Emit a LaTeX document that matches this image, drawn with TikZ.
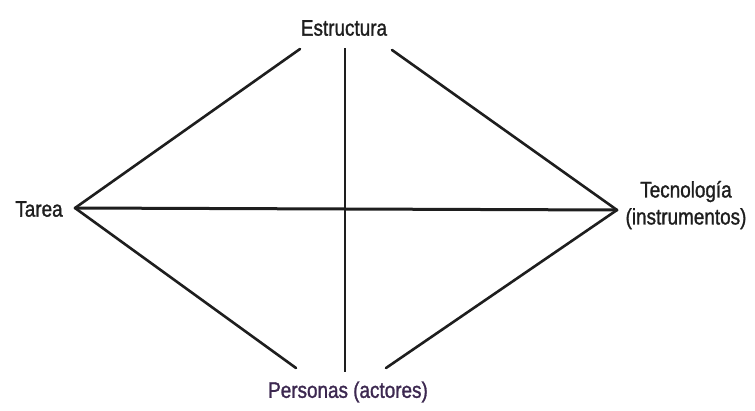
\documentclass[tikz,border=0pt]{standalone}
\usepackage{fontspec}
\setmainfont[FakeStretch=0.84,FakeBold=1.2]{Liberation Sans}
\definecolor{ink}{RGB}{30,30,30}
\definecolor{inkp}{RGB}{60,40,80}
\begin{document}
\begin{tikzpicture}[x=1pt,y=-1pt,
  lbl/.style={font=\fontsize{22.5}{27}\selectfont, text=ink, inner sep=0pt},
  edge/.style={draw=ink, line width=2.6pt, line cap=round},
  axis/.style={draw=ink, line width=1.5pt}]
\useasboundingbox[fill=white] (0,0) rectangle (755,410);
% labels
\node[lbl] (estr) at (344,28) {Estructura};
\node[lbl] (tarea) at (39,209) {Tarea};
\node[lbl, align=center] (tec) at (686,205) {Tecnología\\(instrumentos)};
\node[lbl, text=inkp] (pers) at (348,392) {Personas (actores)};
% vertices and free ends
\coordinate (L) at (75,208);
\coordinate (R) at (617,210);
\coordinate (tl) at (300,49);
\coordinate (tr) at (392,50);
\coordinate (bl) at (296,368);
\coordinate (br) at (386,368);
\coordinate (vt) at (345,48);
\coordinate (vb) at (345,372);
% connectors
\draw[edge] (L) -- (tl);
\draw[edge] (tr) -- (R);
\draw[edge] (L) -- (bl);
\draw[edge] (br) -- (R);
\draw[edge, line width=3pt] (L) -- (R);
\draw[axis] (vt) -- (vb);
\end{tikzpicture}
\end{document}
